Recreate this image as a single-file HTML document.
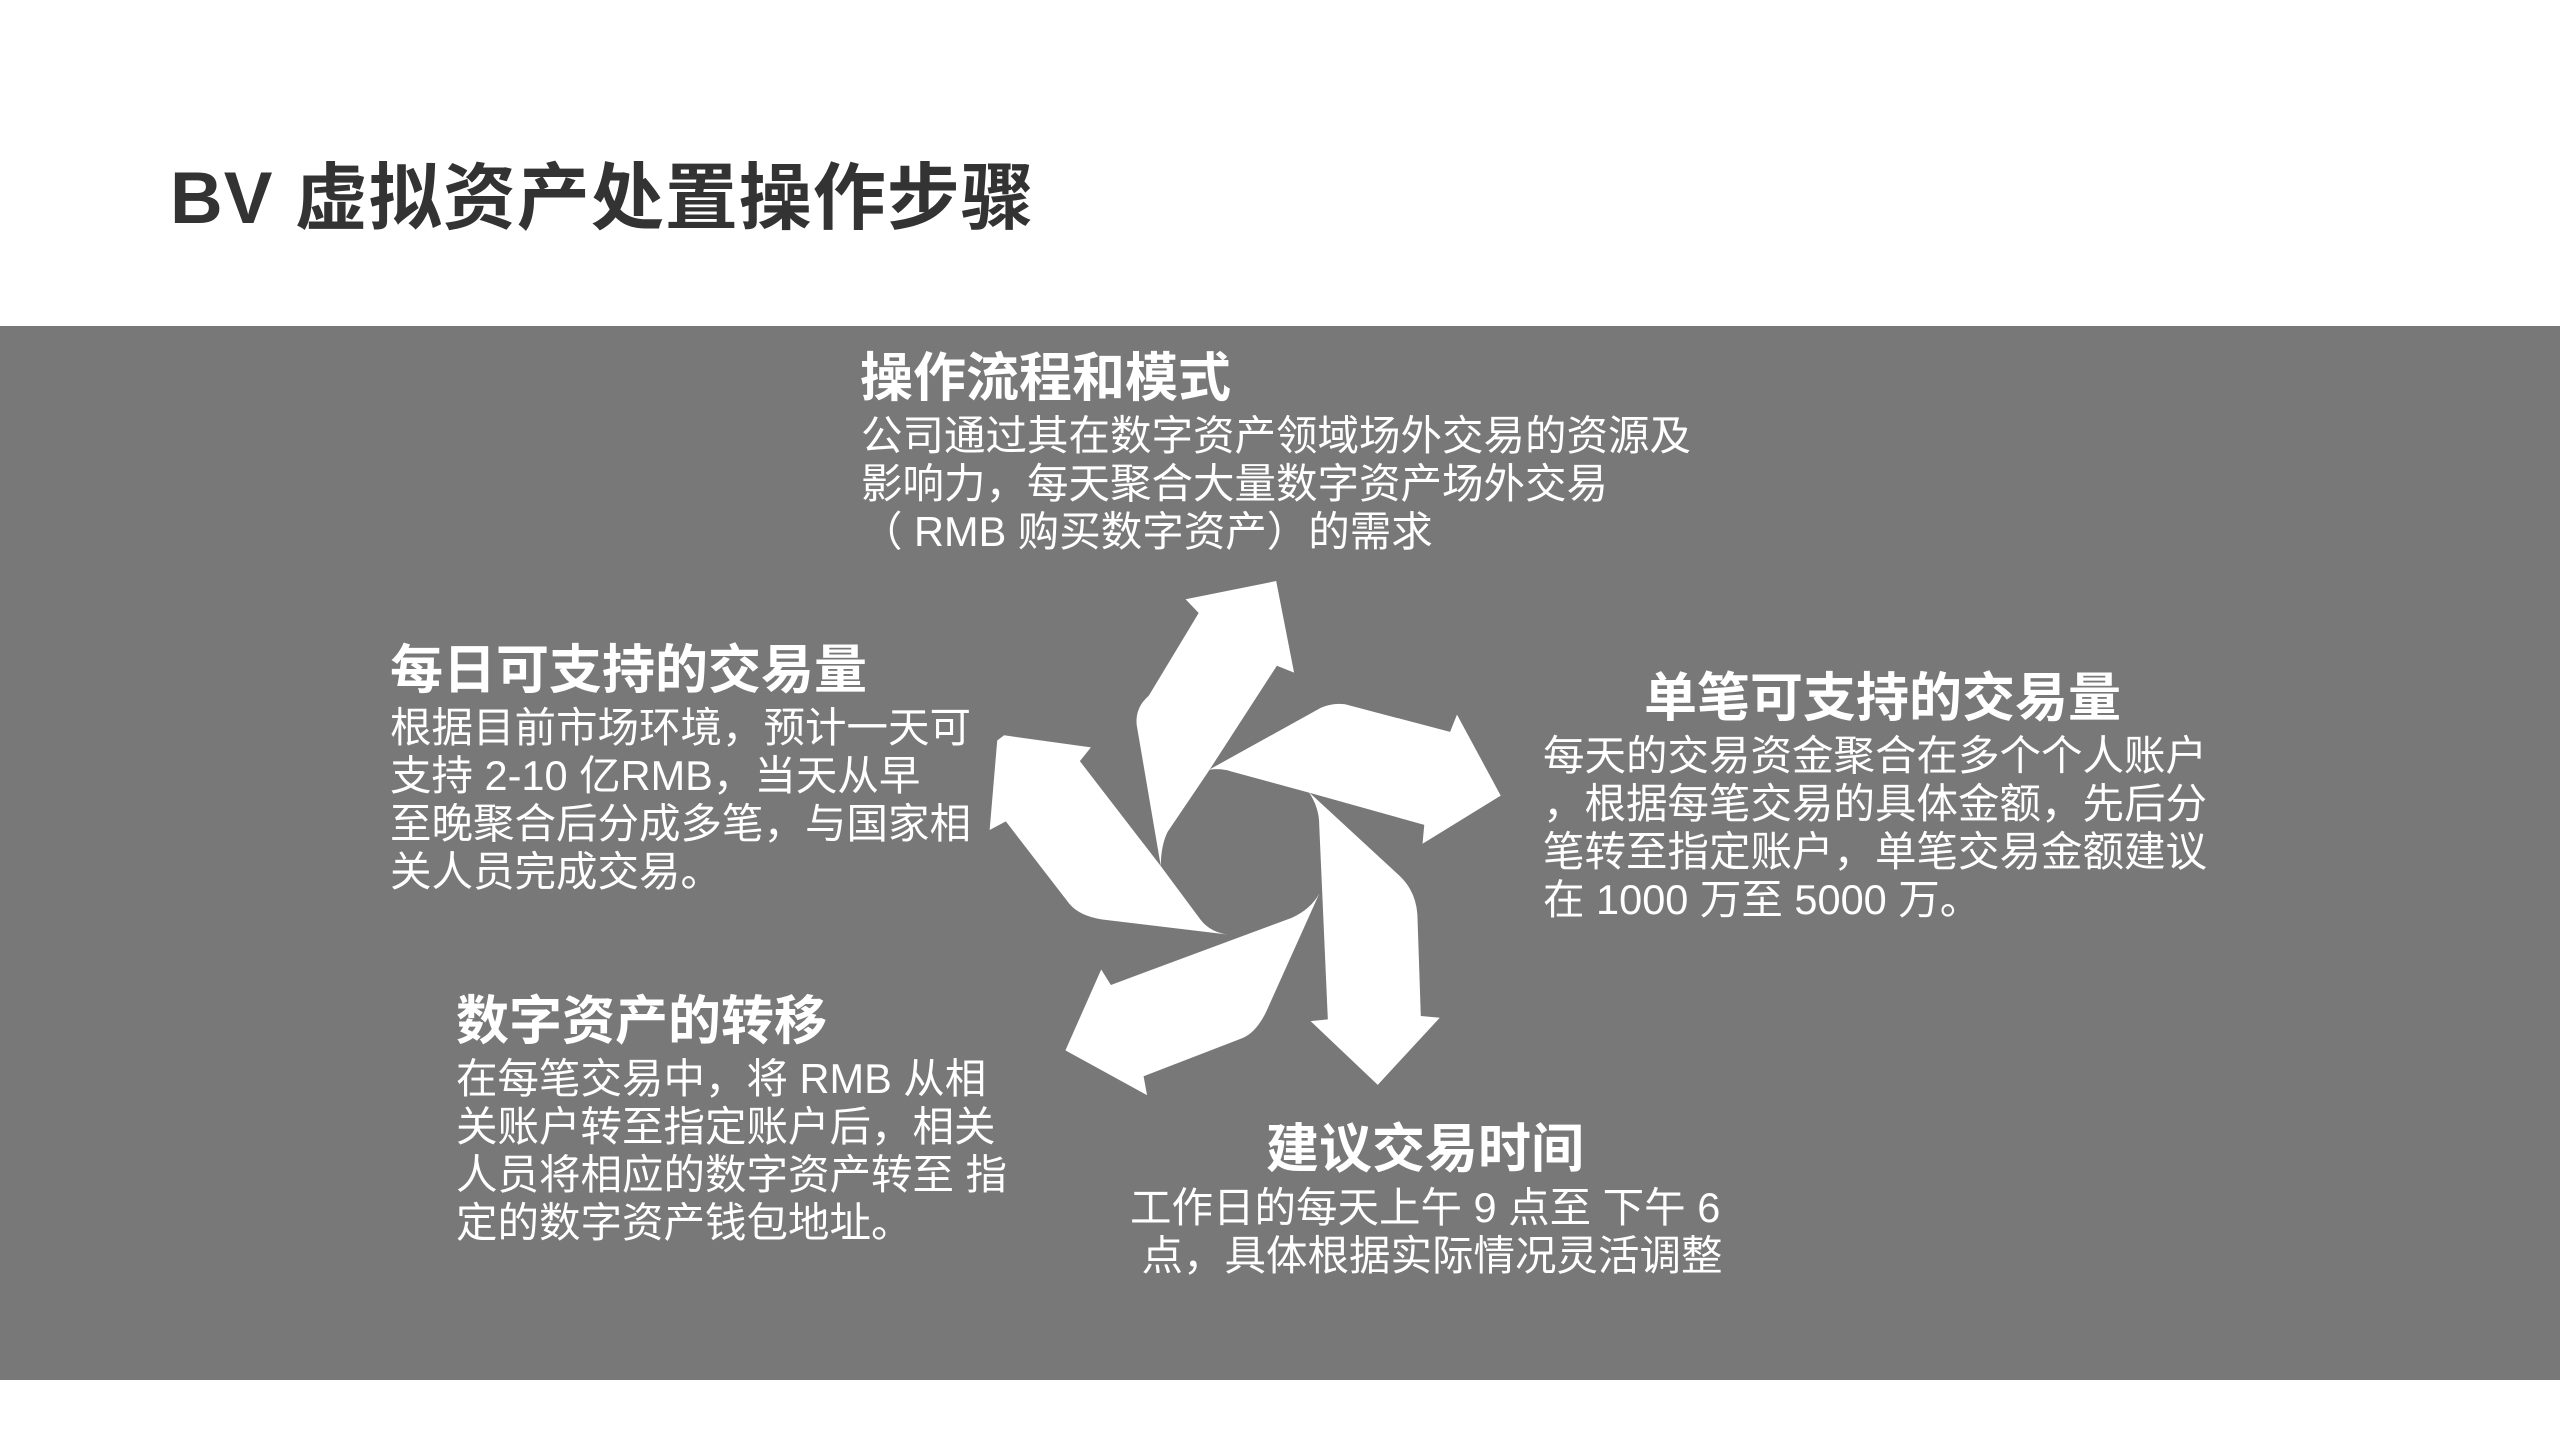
<!DOCTYPE html>
<html><head><meta charset="utf-8"><style>
body{margin:0;width:2560px;height:1440px;background:#fff;position:relative;overflow:hidden;font-family:"Liberation Sans","Noto Sans CJK SC",sans-serif}
.band{position:absolute;left:0;top:326px;width:2560px;height:1054px;background:#787878}
.t{position:absolute;left:170px;top:155px;font-size:73px;font-weight:bold;color:#333;line-height:88px;white-space:nowrap;letter-spacing:1px}
.h{position:absolute;font-size:53px;font-weight:bold;color:#fff;line-height:60px;white-space:nowrap}
.b{position:absolute;font-size:41.5px;color:#fff;line-height:48px;white-space:nowrap}
</style></head><body>
<div class="t">BV 虚拟资产处置操作步骤</div>
<div class="band"></div>
<svg style="position:absolute;left:980px;top:570px" width="540" height="530" viewBox="0 0 1568 1539">
<g fill="#fff">
<path d="M525,860 L455,450 Q450,400 490,365 L635,125 L597,85 L860,32 L912,298 L862,278 L660,590 L545,760 Q525,800 525,860Z"/>
<path d="M665,580 L990,400 Q1025,385 1060,390 L1365,470 L1385,420 L1512,655 L1285,795 L1290,740 L950,645 L730,585 Q700,575 665,580Z"/>
<path d="M955,645 Q985,690 985,740 L1010,1305 L960,1310 L1155,1495 L1335,1300 L1280,1295 L1270,1000 Q1265,930 1215,885 Z"/>
<path d="M985,940 L830,1285 Q800,1345 760,1360 L475,1470 L485,1525 L248,1395 L352,1160 L380,1205 L905,1010 Q960,985 985,940Z"/>
<path d="M730,1060 L355,1015 Q290,1005 260,970 L75,730 L28,755 L50,495 L70,480 L322,515 L290,555 L525,860 L640,1015 Q670,1055 730,1060Z"/>
</g></svg>
<div class="h" style="left:860px;top:349px">操作流程和模式</div>
<div class="b" style="left:861px;top:412px">公司通过其在数字资产领域场外交易的资源及<br>影响力，每天聚合大量数字资产场外交易<br>（ RMB 购买数字资产）的需求</div>
<div class="h" style="left:390px;top:641px">每日可支持的交易量</div>
<div class="b" style="left:390px;top:704px">根据目前市场环境，预计一天可<br>支持 2-10 亿RMB，当天从早<br>至晚聚合后分成多笔，与国家相<br>关人员完成交易。</div>
<div class="h" style="left:1644px;top:669px">单笔可支持的交易量</div>
<div class="b" style="left:1543px;top:732px">每天的交易资金聚合在多个个人账户<br>，根据每笔交易的具体金额，先后分<br>笔转至指定账户，单笔交易金额建议<br>在 1000 万至 5000 万。</div>
<div class="h" style="left:456px;top:992px">数字资产的转移</div>
<div class="b" style="left:456px;top:1055px">在每笔交易中，将 RMB 从相<br>关账户转至指定账户后，相关<br>人员将相应的数字资产转至 指<br>定的数字资产钱包地址。</div>
<div class="h" style="left:1266px;top:1120px">建议交易时间</div>
<div class="b" style="left:1130px;top:1184px">工作日的每天上午 9 点至 下午 6<br>&nbsp;点，具体根据实际情况灵活调整</div>
</body></html>
